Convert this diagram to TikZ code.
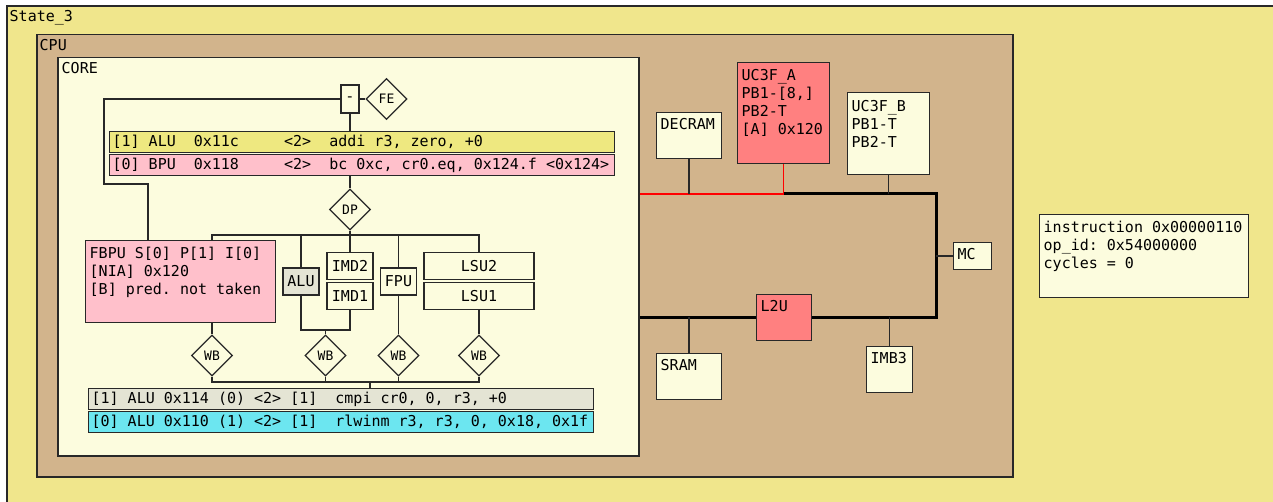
\documentclass[tikz,border=0pt]{standalone}
\usepackage{fontspec}
\setmainfont{DejaVu Sans Mono}
\usepackage{tikz}
\usetikzlibrary{shapes.geometric, positioning, calc}

\definecolor{statebg}{RGB}{240,230,140}
\definecolor{cpubg}{RGB}{210,180,140}
\definecolor{paper}{RGB}{252,252,222}
\definecolor{ink}{RGB}{40,40,40}
\definecolor{aluyel}{RGB}{238,232,128}
\definecolor{bpupink}{RGB}{255,192,203}
\definecolor{retgray}{RGB}{228,228,212}
\definecolor{retcyan}{RGB}{108,230,240}
\definecolor{hotred}{RGB}{255,128,128}

\newcommand{\mono}{\fontsize{15}{18}\selectfont\frenchspacing}
\newcommand{\stagefont}{\fontsize{13}{15}\selectfont}
% one instruction line, left aligned in its bar
\newcommand{\asm}[1]{\makebox[499pt][l]{#1}}

\begin{document}
\begin{tikzpicture}[x=1pt, y=-1pt,
  frame/.style={draw=ink, line width=1.5pt, anchor=north west, inner sep=0pt},
  tag/.style={anchor=north west, inner sep=0pt, font=\mono, align=left},
  chip/.style={draw=ink, line width=1.2pt, fill=paper, anchor=north west, inner sep=0pt},
  chiptext/.style={tag, xshift=4.5pt, yshift=-6.5pt},
  unit/.style={draw=ink, line width=1.2pt, fill=paper, inner sep=0pt,
               minimum height=27pt, font=\mono},
  instr/.style={draw=ink, line width=1.2pt, anchor=north west, inner xsep=3pt,
                inner ysep=0pt, minimum height=21pt,
                font=\mono, text height=11pt, text depth=3pt},
  stage/.style={diamond, draw=ink, line width=1.2pt, fill=paper, aspect=1,
                minimum width=41pt, minimum height=41pt, inner sep=0pt, font=\stagefont},
  wire/.style={draw=ink, line width=1.3pt},
  bus/.style={draw=black, line width=3pt},
  hotbus/.style={draw=red, line width=2pt}]
  \useasboundingbox (0,0) rectangle (1273,502);

  % the state, the cpu and its core
  \fill[statebg] (7,6) rectangle (1273,502);
  \draw[ink, line width=2pt] (7,502) -- (7,6) -- (1273,6);
  \node[tag] (statename) at (9.5,10) {State\_3};
  \node[frame, fill=cpubg, minimum width=976pt, minimum height=442pt,
        label={[tag, xshift=3.5pt, yshift=-5pt]north west:CPU}] (cpu) at (36,34) {};
  \node[frame, fill=paper, minimum width=581pt, minimum height=398pt,
        label={[tag, xshift=4.5pt, yshift=-5.5pt]north west:CORE}] (core) at (57,57) {};

  % fetch
  \node[unit, minimum width=18pt, minimum height=28pt] (mux) at (350,99) {-};
  \node[stage] (fe) at (386.5,99) {FE};
  \draw[wire] (mux) -- (fe);
  \node[instr, fill=aluyel] (fetch1) at (109,131)
    {\asm{[1] ALU~~0x11c~~~~~<2>~~addi r3, zero, +0}};
  \node[instr, fill=bpupink] (fetch0) at (109,154)
    {\asm{[0] BPU~~0x118~~~~~<2>~~bc 0xc, cr0.eq, 0x124.f <0x124>}};
  \draw[wire] (mux.south) -- (mux.south |- fetch1.north);

  % dispatch to the units
  \node[stage] (dp) at (350,209.5) {DP};
  \draw[wire] (dp.north |- fetch0.south) -- (dp.north);
  \node[chip, fill=bpupink, minimum width=190pt, minimum height=82pt,
        label={[chiptext]north west:{FBPU S[0] P[1] I[0]\\{}[NIA] 0x120\\{}[B] pred. not taken}}]
        (fbpu) at (85,240) {};
  \node[unit, fill=retgray, minimum width=36pt] (alu) at (301,281.5) {ALU};
  \node[unit, minimum width=46pt] (imd2) at (350,266.4) {IMD2};
  \node[unit, minimum width=46pt] (imd1) at (350,296.2) {IMD1};
  \node[unit, minimum width=36pt] (fpu) at (398.5,281.5) {FPU};
  \node[unit, minimum width=110pt] (lsu2) at (479,266.4) {LSU2};
  \node[unit, minimum width=110pt] (lsu1) at (479,296.2) {LSU1};
  \coordinate (loopcorner) at (104,184);
  \coordinate (dpsplit) at (350,235);
  \draw[wire] (mux.west) -| (loopcorner) -| ([xshift=63pt]fbpu.north west);
  \draw[wire] (dp.south) -- (dpsplit);
  \draw[wire] ([xshift=127pt]fbpu.north west) |- (lsu2.north |- dpsplit) -- (lsu2.north);
  \foreach \u in {alu, imd2, fpu}
    \draw[wire] (\u.north) -- (\u.north |- dpsplit);

  % write back
  \foreach \w/\x in {wb1/212, wb2/325.5, wb3/398.5, wb4/479}
    \node[stage] (\w) at (\x,355.5) {WB};
  \coordinate (aluimd) at (325.5,330);
  \draw[wire] (alu.south) |- (aluimd) -| (imd1.south);
  \draw[wire] (aluimd) -- (wb2.north);
  \draw[wire] ([xshift=127pt]fbpu.south west) -- (wb1.north);
  \draw[wire] (fpu.south) -- (wb3.north);
  \draw[wire] (lsu1.south) -- (wb4.north);
  \coordinate (wbjoin) at (370,382);
  \draw[wire] (wb1.south) |- (wb4.south |- wbjoin) -- (wb4.south);
  \foreach \w in {wb2, wb3}
    \draw[wire] (\w.south) -- (\w.south |- wbjoin);
  \node[instr, fill=retgray] (commit1) at (88,388)
    {\asm{[1] ALU 0x114 (0) <2> [1]~~cmpi cr0, 0, r3, +0}};
  \node[instr, fill=retcyan] (commit0) at (88,411)
    {\asm{[0] ALU 0x110 (1) <2> [1]~~rlwinm r3, r3, 0, 0x18, 0x1f}};
  \draw[wire] (wbjoin) -- (wbjoin |- commit1.north);

  % memories on the bus
  \node[chip, minimum width=65pt, minimum height=46pt,
        label={[chiptext]north west:DECRAM}] (decram) at (656,112) {};
  \node[chip, fill=hotred, minimum width=92pt, minimum height=101pt,
        label={[chiptext, yshift=-1pt]north west:{UC3F\_A\\PB1-[8,]\\PB2-T\\{}[A] 0x120}}]
        (uc3fa) at (737,62) {};
  \node[chip, minimum width=82pt, minimum height=82pt,
        label={[chiptext, yshift=-1.5pt]north west:{UC3F\_B\\PB1-T\\PB2-T}}] (uc3fb) at (847,92) {};
  \node[chip, minimum width=38pt, minimum height=27pt,
        label={[chiptext]north west:MC}] (mc) at (953,242) {};
  \node[chip, fill=hotred, minimum width=55pt, minimum height=45.5pt,
        label={[chiptext]north west:L2U}] (l2u) at (756,294) {};
  \node[chip, minimum width=65pt, minimum height=45.5pt,
        label={[chiptext]north west:SRAM}] (sram) at (656,353) {};
  \node[chip, minimum width=46pt, minimum height=46pt,
        label={[chiptext]north west:IMB3}] (imb3) at (866,346) {};
  \coordinate (hub) at (784,194);
  \coordinate (busne) at (936,194);
  \draw[hotbus] (core.east |- hub) -- (hub);
  \draw[bus] (hub) -- (busne) |- (l2u.east);
  \draw[bus] (l2u.west) -- (core.east |- l2u.west);
  \draw[red, line width=1.5pt] (uc3fa.south) -- (uc3fa.south |- hub);
  \draw[wire] (decram.south) -- (decram.south |- hub);
  \draw[wire] (uc3fb.south) -- (uc3fb.south |- hub);
  \draw[wire] (mc.west) -- (mc.west -| busne);
  \draw[wire] (sram.north) -- (sram.north |- l2u.west);
  \draw[wire] (imb3.north) -- (imb3.north |- l2u.east);

  % status
  \node[chip, minimum width=209pt, minimum height=83pt,
        label={[chiptext]north west:{instruction 0x00000110\\op\_id: 0x54000000\\cycles = 0}}]
        (status) at (1039,214) {};
\end{tikzpicture}
\end{document}
